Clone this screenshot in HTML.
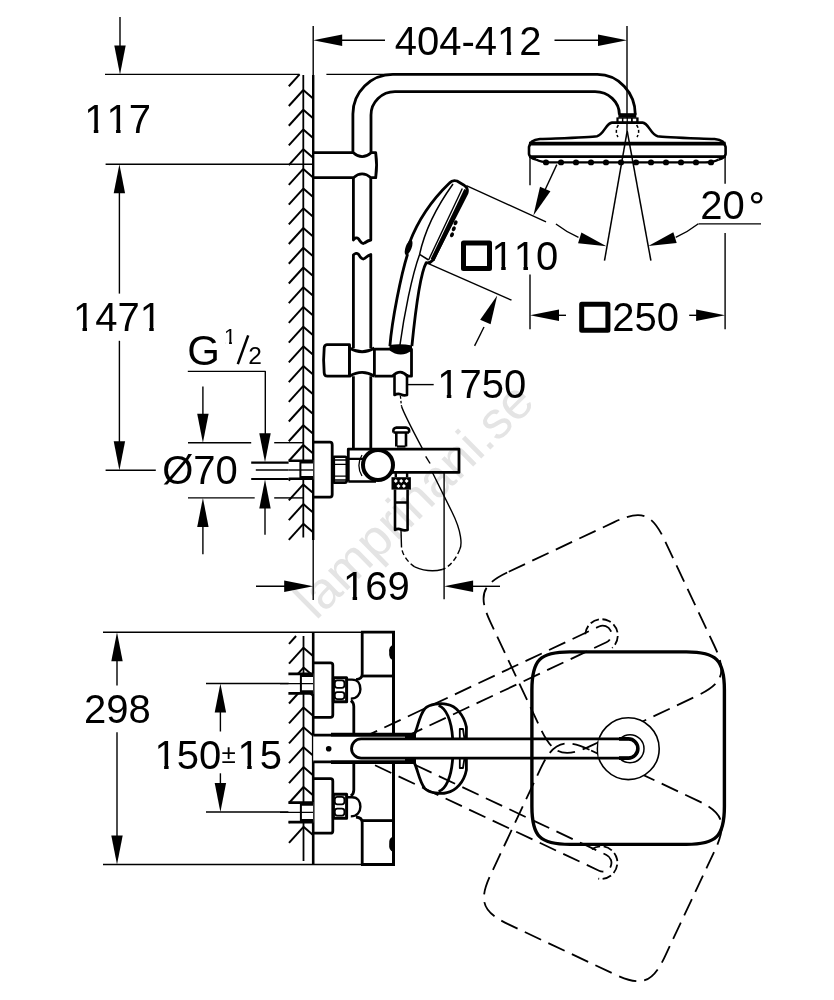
<!DOCTYPE html>
<html><head><meta charset="utf-8"><style>
html,body{margin:0;padding:0;background:#fff;width:834px;height:1000px;overflow:hidden}
svg{display:block;will-change:transform}
svg text{font-family:"Liberation Sans",sans-serif;fill:#000;stroke:none;font-kerning:none;font-feature-settings:"kern" 0}
</style></head><body>
<svg width="834" height="1000" viewBox="0 0 834 1000" fill="none" stroke="#000" stroke-linecap="butt" stroke-linejoin="round">
<text x="0" y="0" font-size="52" style="fill:#e4e4e4" transform="translate(316,621) rotate(-44.5)">lamprinani.se</text>
<line x1="105.00" y1="74.40" x2="299.60" y2="74.40" stroke-width="1.4" />
<line x1="105.60" y1="164.20" x2="313.00" y2="164.20" stroke-width="1.4" />
<line x1="120.00" y1="17.00" x2="120.00" y2="50.00" stroke-width="1.4" />
<polygon points="120.00,74.40 114.30,45.40 125.70,45.40" fill="#000" stroke="none"/>
<text x="84.22" y="133.2" font-size="40" >117</text>
<line x1="119.40" y1="185.00" x2="119.40" y2="293.60" stroke-width="1.4" />
<polygon points="119.40,164.20 125.10,193.20 113.70,193.20" fill="#000" stroke="none"/>
<text x="72.92" y="331.3" font-size="40" >1471</text>
<line x1="119.40" y1="340.80" x2="119.40" y2="450.00" stroke-width="1.4" />
<polygon points="119.40,470.30 113.70,441.30 125.10,441.30" fill="#000" stroke="none"/>
<line x1="105.60" y1="470.30" x2="155.80" y2="470.30" stroke-width="1.4" />
<line x1="303.30" y1="75.00" x2="303.30" y2="537.60" stroke-width="1.8" />
<line x1="313.20" y1="26.00" x2="313.20" y2="75.00" stroke-width="1.4" />
<line x1="313.20" y1="75.00" x2="313.20" y2="540.00" stroke-width="2.4" />
<line x1="313.20" y1="540.00" x2="313.20" y2="600.00" stroke-width="1.4" />
<line x1="288.80" y1="86.28" x2="299.57" y2="74.40" stroke-width="2.0" />
<line x1="288.80" y1="106.00" x2="303.30" y2="90.00" stroke-width="2.0" />
<line x1="303.30" y1="90.00" x2="312.50" y2="98.00" stroke-width="2.0" />
<line x1="288.80" y1="125.72" x2="303.30" y2="109.72" stroke-width="2.0" />
<line x1="303.30" y1="109.72" x2="312.50" y2="117.72" stroke-width="2.0" />
<line x1="288.80" y1="145.44" x2="303.30" y2="129.44" stroke-width="2.0" />
<line x1="303.30" y1="129.44" x2="312.50" y2="137.44" stroke-width="2.0" />
<line x1="288.80" y1="165.16" x2="303.30" y2="149.16" stroke-width="2.0" />
<line x1="303.30" y1="149.16" x2="312.50" y2="157.16" stroke-width="2.0" />
<line x1="288.80" y1="184.88" x2="303.30" y2="168.88" stroke-width="2.0" />
<line x1="303.30" y1="168.88" x2="312.50" y2="176.88" stroke-width="2.0" />
<line x1="288.80" y1="204.60" x2="303.30" y2="188.60" stroke-width="2.0" />
<line x1="303.30" y1="188.60" x2="312.50" y2="196.60" stroke-width="2.0" />
<line x1="288.80" y1="224.32" x2="303.30" y2="208.32" stroke-width="2.0" />
<line x1="303.30" y1="208.32" x2="312.50" y2="216.32" stroke-width="2.0" />
<line x1="288.80" y1="244.04" x2="303.30" y2="228.04" stroke-width="2.0" />
<line x1="303.30" y1="228.04" x2="312.50" y2="236.04" stroke-width="2.0" />
<line x1="288.80" y1="263.76" x2="303.30" y2="247.76" stroke-width="2.0" />
<line x1="303.30" y1="247.76" x2="312.50" y2="255.76" stroke-width="2.0" />
<line x1="288.80" y1="283.48" x2="303.30" y2="267.48" stroke-width="2.0" />
<line x1="303.30" y1="267.48" x2="312.50" y2="275.48" stroke-width="2.0" />
<line x1="288.80" y1="303.20" x2="303.30" y2="287.20" stroke-width="2.0" />
<line x1="303.30" y1="287.20" x2="312.50" y2="295.20" stroke-width="2.0" />
<line x1="288.80" y1="322.92" x2="303.30" y2="306.92" stroke-width="2.0" />
<line x1="303.30" y1="306.92" x2="312.50" y2="314.92" stroke-width="2.0" />
<line x1="288.80" y1="342.64" x2="303.30" y2="326.64" stroke-width="2.0" />
<line x1="303.30" y1="326.64" x2="312.50" y2="334.64" stroke-width="2.0" />
<line x1="288.80" y1="362.36" x2="303.30" y2="346.36" stroke-width="2.0" />
<line x1="303.30" y1="346.36" x2="312.50" y2="354.36" stroke-width="2.0" />
<line x1="288.80" y1="382.08" x2="303.30" y2="366.08" stroke-width="2.0" />
<line x1="303.30" y1="366.08" x2="312.50" y2="374.08" stroke-width="2.0" />
<line x1="288.80" y1="401.80" x2="303.30" y2="385.80" stroke-width="2.0" />
<line x1="303.30" y1="385.80" x2="312.50" y2="393.80" stroke-width="2.0" />
<line x1="288.80" y1="421.52" x2="303.30" y2="405.52" stroke-width="2.0" />
<line x1="303.30" y1="405.52" x2="312.50" y2="413.52" stroke-width="2.0" />
<line x1="288.80" y1="441.24" x2="303.30" y2="425.24" stroke-width="2.0" />
<line x1="303.30" y1="425.24" x2="312.50" y2="433.24" stroke-width="2.0" />
<line x1="288.80" y1="460.96" x2="303.30" y2="444.96" stroke-width="2.0" />
<line x1="303.30" y1="444.96" x2="312.50" y2="452.96" stroke-width="2.0" />
<line x1="288.80" y1="480.68" x2="303.30" y2="464.68" stroke-width="2.0" />
<line x1="303.30" y1="464.68" x2="312.50" y2="472.68" stroke-width="2.0" />
<line x1="288.80" y1="500.40" x2="303.30" y2="484.40" stroke-width="2.0" />
<line x1="303.30" y1="484.40" x2="312.50" y2="492.40" stroke-width="2.0" />
<line x1="288.80" y1="520.12" x2="303.30" y2="504.12" stroke-width="2.0" />
<line x1="303.30" y1="504.12" x2="312.50" y2="512.12" stroke-width="2.0" />
<line x1="288.80" y1="539.84" x2="303.30" y2="523.84" stroke-width="2.0" />
<line x1="303.30" y1="523.84" x2="312.50" y2="531.84" stroke-width="2.0" />
<line x1="627.00" y1="26.00" x2="627.00" y2="131.00" stroke-width="1.4" />
<line x1="340.00" y1="40.30" x2="385.00" y2="40.30" stroke-width="1.4" />
<polygon points="313.20,40.30 342.20,34.60 342.20,46.00" fill="#000" stroke="none"/>
<line x1="554.50" y1="40.30" x2="600.00" y2="40.30" stroke-width="1.4" />
<polygon points="627.00,40.30 598.00,46.00 598.00,34.60" fill="#000" stroke="none"/>
<text x="394.76" y="54.5" font-size="40" >404-412</text>
<line x1="326.40" y1="74.40" x2="395.00" y2="74.40" stroke-width="1.4" />
<path d="M352.9,152.7 V114 A40,39.6 0 0 1 392.9,74.4 H597.3 A38,40.3 0 0 1 635.3,114.7" stroke-width="2.8" />
<path d="M371,152.7 V115 A24,23.4 0 0 1 395,91.6 H595 A24.4,23.1 0 0 1 619.4,114.7" stroke-width="2.8" />
<path d="M313.2,152.7 H353.4 Q362,160.5 371.2,152.7 H375.7 Q377.5,165 375.7,177.7 H371 Q362,170 353.4,177.7 H313.2" stroke-width="2.8" />
<path d="M353.4,177.7 V240 Q356,236.5 358.5,238.8 Q362,245 364.5,243 Q368,240.5 370.8,240 V177.7" stroke-width="2.8" />
<path d="M353.4,348 V255 Q356,252 358.5,254.3 Q362,260.5 364.5,258.5 Q368,255.5 370.8,254.5 V348" stroke-width="2.8" />
<path d="M353.4,376.2 V448.7 M370.8,376.2 V448.7" stroke-width="2.8" />
<path d="M349.4,344.6 H327 Q324.2,345 324.2,348 Q323,360 324.2,373 Q324.4,376.2 327.5,376.2 H349.4 Z" stroke-width="2.8" />
<path d="M349.4,348 Q362.4,355.5 374.4,348 M349.4,376.2 Q362.4,368.5 374.4,376.2 M349.4,344.6 V376.2 M374.4,348 V376.2" stroke-width="2.8" />
<path d="M374.4,349.2 H390 Q400.7,357 411.5,349.2 V376.2 H407.3 Q400.7,368 392.3,376.2 H374.4" stroke-width="2.8" />
<path d="M394.5,374 V395 Q398,393 401,394.5 Q404,396 407,395 V374" stroke-width="2.6" />
<line x1="407.30" y1="384.60" x2="433.70" y2="384.60" stroke-width="1.4" />
<text x="437.22" y="398" font-size="40" >1750</text>
<rect x="463.5" y="242.9" width="26" height="25.7" stroke-width="5" fill="none"/>
<text x="491.62" y="269.9" font-size="40" >110</text>
<rect x="581.7" y="304.3" width="26.2" height="26" stroke-width="5" fill="none"/>
<text x="612.24" y="330.8" font-size="40" >250</text>
<text x="700.24" y="218.8" font-size="40" >20</text>
<circle cx="756.7" cy="197.8" r="4.6" stroke-width="2.4" fill="none"/>
<line x1="530.00" y1="156.00" x2="530.00" y2="185.20" stroke-width="1.4" />
<line x1="530.00" y1="274.50" x2="530.00" y2="329.20" stroke-width="1.4" />
<line x1="725.10" y1="156.00" x2="725.10" y2="183.80" stroke-width="1.4" />
<line x1="725.10" y1="232.90" x2="725.10" y2="329.20" stroke-width="1.4" />
<polygon points="530.00,315.30 559.00,309.60 559.00,321.00" fill="#000" stroke="none"/>
<line x1="550.00" y1="315.30" x2="566.00" y2="315.30" stroke-width="1.4" />
<polygon points="725.10,315.30 696.10,321.00 696.10,309.60" fill="#000" stroke="none"/>
<line x1="689.20" y1="315.30" x2="700.00" y2="315.30" stroke-width="1.4" />
<rect x="618.4" y="113.2" width="17.9" height="4.6" fill="#000" stroke="none"/>
<rect x="616.4" y="117.4" width="22.2" height="5.4" fill="#000" stroke="none"/>
<rect x="618.6" y="118.7" width="3.30" height="3.1" fill="#fff" stroke="none"/>
<rect x="623.4" y="118.7" width="3.20" height="3.1" fill="#fff" stroke="none"/>
<rect x="627.9" y="118.7" width="3.10" height="3.1" fill="#fff" stroke="none"/>
<rect x="632.8" y="118.7" width="3.40" height="3.1" fill="#fff" stroke="none"/>
<path d="M627,122.6 H612 C606,123 604,134.5 597,136.2 C590,137.5 560,138.2 540,139 C533,139.7 529.5,142 529,147 V154 Q529.5,158 536,159.5 M627,122.6 H642.6 C648.6,123 650.6,134.5 657.6,136.2 C664.6,137.5 694.6,138.2 714.6,139 C721.6,139.7 725.1,142 725.6,147 V154 Q725.1,158 718.6,159.5" stroke-width="2.6" />
<line x1="529.00" y1="143.60" x2="725.60" y2="143.60" stroke-width="3.8" />
<line x1="529.00" y1="156.60" x2="725.60" y2="156.60" stroke-width="2.8" />
<path d="M536,159.5 Q541,162.4 550,162.4 H705 Q714,162.4 718.6,159.5" stroke-width="2.4" />
<ellipse cx="546" cy="162.4" rx="3.1" ry="2.9" fill="#000" stroke="none"/>
<ellipse cx="561" cy="162.4" rx="3.1" ry="2.9" fill="#000" stroke="none"/>
<ellipse cx="576" cy="162.4" rx="3.1" ry="2.9" fill="#000" stroke="none"/>
<ellipse cx="591" cy="162.4" rx="3.1" ry="2.9" fill="#000" stroke="none"/>
<ellipse cx="606" cy="162.4" rx="3.1" ry="2.9" fill="#000" stroke="none"/>
<ellipse cx="621" cy="162.4" rx="3.1" ry="2.9" fill="#000" stroke="none"/>
<ellipse cx="636" cy="162.4" rx="3.1" ry="2.9" fill="#000" stroke="none"/>
<ellipse cx="651" cy="162.4" rx="3.1" ry="2.9" fill="#000" stroke="none"/>
<ellipse cx="666" cy="162.4" rx="3.1" ry="2.9" fill="#000" stroke="none"/>
<ellipse cx="681" cy="162.4" rx="3.1" ry="2.9" fill="#000" stroke="none"/>
<ellipse cx="696" cy="162.4" rx="3.1" ry="2.9" fill="#000" stroke="none"/>
<ellipse cx="711" cy="162.4" rx="3.1" ry="2.9" fill="#000" stroke="none"/>
<path d="M618.4,125 Q614.5,131 618,137" stroke-width="1.5" stroke-dasharray="3,2.2"/>
<path d="M636.6,125 Q640.5,131 637,137" stroke-width="1.5" stroke-dasharray="3,2.2"/>
<line x1="627.20" y1="131.00" x2="604.50" y2="260.70" stroke-width="1.5" />
<line x1="627.20" y1="131.00" x2="650.90" y2="260.70" stroke-width="1.5" />
<path d="M389.9,346 C392,320 401,275 407.6,254 M409.4,243 Q422,209.5 449.5,183 Q452.5,179.5 457,181 L464.5,185.5 Q468.5,188.5 467,193 L433,260 Q430,263.5 426.2,262.7 C421,272 416,305 411.9,346" stroke-width="2.8" />
<ellipse cx="408.6" cy="247.5" rx="3" ry="8" fill="#000" stroke="none" transform="rotate(20 408.6 247.5)"/>
<path d="M453,184 Q427,220 419.6,254.4 C412,275 404,315 399.8,346" stroke-width="1.5" />
<path d="M462.3,188.5 L428.6,260" stroke-width="1.4" />
<line x1="419.60" y1="254.40" x2="428.60" y2="260.00" stroke-width="1.5" />
<path d="M466.2,190 L432.5,260" stroke-width="4.2" />
<ellipse cx="455.6" cy="222.8" rx="1.9" ry="2.6" fill="#000" stroke="none" transform="rotate(25 455.6 222.8)"/>
<ellipse cx="453.8" cy="228.8" rx="1.9" ry="2.6" fill="#000" stroke="none" transform="rotate(25 453.8 228.8)"/>
<ellipse cx="452" cy="234.8" rx="1.9" ry="2.6" fill="#000" stroke="none" transform="rotate(25 452 234.8)"/>
<path d="M389.5,345 Q400.7,343.5 412,345.5 L412,349.5 Q400.7,357 389.5,349.5 Z" fill="#000" stroke="none"/>
<line x1="466.40" y1="185.60" x2="546.00" y2="221.80" stroke-width="1.4" />
<line x1="428.40" y1="263.60" x2="511.50" y2="300.20" stroke-width="1.4" />
<line x1="474.60" y1="345.90" x2="484.00" y2="327.00" stroke-width="1.4" />
<polygon points="497.20,295.50 490.57,324.30 480.16,319.65" fill="#000" stroke="none"/>
<line x1="556.80" y1="164.60" x2="545.00" y2="190.00" stroke-width="1.4" />
<polygon points="533.40,215.50 540.03,186.70 550.44,191.35" fill="#000" stroke="none"/>
<path d="M555.94,223.95 A117,117 0 0 0 578.48,237.47" stroke-width="1.4" />
<polygon points="606.48,246.19 578.08,243.21 581.41,232.51" fill="#000" stroke="none"/>
<path d="M698.39,223.70 A117,117 0 0 1 675.70,237.38" stroke-width="1.4" />
<polygon points="648.32,246.04 673.33,232.26 676.71,242.94" fill="#000" stroke="none"/>
<line x1="698.60" y1="223.90" x2="761.00" y2="223.90" stroke-width="1.4" />
<text x="187.30" y="364.8" font-size="42" >G</text>
<text x="224.11" y="344.4" font-size="21.5" >1</text>
<line x1="237.8" y1="364.2" x2="248.2" y2="335.4" stroke-width="2.5"/>
<text x="248.18" y="364.2" font-size="24.5" >2</text>
<path d="M187.8,371.4 H265.3 V440" stroke-width="1.4" />
<polygon points="265.00,462.30 259.30,433.30 270.70,433.30" fill="#000" stroke="none"/>
<line x1="265.00" y1="534.70" x2="265.00" y2="505.00" stroke-width="1.4" />
<polygon points="265.00,479.50 270.70,508.50 259.30,508.50" fill="#000" stroke="none"/>
<line x1="188.00" y1="442.70" x2="251.20" y2="442.70" stroke-width="1.4" />
<line x1="274.20" y1="442.70" x2="303.30" y2="442.70" stroke-width="1.4" />
<line x1="188.00" y1="497.90" x2="254.70" y2="497.90" stroke-width="1.4" />
<line x1="274.20" y1="497.90" x2="303.30" y2="497.90" stroke-width="1.4" />
<line x1="202.90" y1="386.40" x2="202.90" y2="420.00" stroke-width="1.4" />
<polygon points="202.90,442.70 197.20,413.70 208.60,413.70" fill="#000" stroke="none"/>
<line x1="202.90" y1="554.30" x2="202.90" y2="520.00" stroke-width="1.4" />
<polygon points="202.90,497.90 208.60,526.90 197.20,526.90" fill="#000" stroke="none"/>
<text x="162.14" y="484.1" font-size="40" >&#216;70</text>
<line x1="251.20" y1="462.70" x2="290.00" y2="462.70" stroke-width="2.2" />
<line x1="255.80" y1="470.00" x2="290.00" y2="470.00" stroke-width="1.4" />
<line x1="251.20" y1="479.00" x2="290.00" y2="479.00" stroke-width="2.2" />
<line x1="256.00" y1="586.20" x2="290.00" y2="586.20" stroke-width="1.4" />
<polygon points="313.20,586.20 284.20,591.90 284.20,580.50" fill="#000" stroke="none"/>
<text x="343.02" y="600" font-size="40" >169</text>
<line x1="444.10" y1="471.90" x2="444.10" y2="599.30" stroke-width="1.4" />
<line x1="500.00" y1="586.30" x2="470.00" y2="586.30" stroke-width="1.4" />
<polygon points="444.10,586.30 473.10,580.60 473.10,592.00" fill="#000" stroke="none"/>
<rect x="288.6" y="460" width="24.6" height="19.4" fill="#fff" stroke="none"/>
<path d="M288.6,460.7 H313.2 M288.6,478.7 H313.2" stroke-width="2.4" />
<path d="M300.4,461 V478.5 M300.4,462.4 H313 M300.4,477 H313" stroke-width="2.0" />
<line x1="288.60" y1="470.00" x2="313.00" y2="470.00" stroke-width="1.4" />
<path d="M313.2,442.2 H330 Q332.2,442.2 332.2,445 V494.5 Q332.2,497.2 330,497.2 H313.2" stroke-width="2.8" />
<path d="M333.8,456.7 H345 Q346.8,456.7 346.8,459 V480.3 Q346.8,482.6 345,482.6 H333.8 Z" stroke-width="2.6" />
<path d="M334,460 H346.5 M334,464.3 H346.5 M334,476.1 H346.5 M334,480 H346.5" stroke-width="1.3" />
<path d="M348.3,481.5 V449.2 H459 V472.4 H392" stroke-width="2.8" />
<path d="M348.3,458.9 H366 M348.3,481.5 H376" stroke-width="2.4" />
<circle cx="378" cy="465" r="15" stroke-width="4" fill="#fff"/>
<path d="M362,455 A19.4,19.4 0 0 0 362,476" stroke-width="1.3" />
<path d="M396.3,446.5 V432.5 M406,446.5 V432.5 M393.5,432.5 H409 M393.5,432.5 Q392.5,428 396.5,427.6 H406 Q410,428 409,432.5" stroke-width="2.6" />
<path d="M397,446.5 H405.5" stroke-width="2.2" />
<rect x="391.5" y="477.2" width="19.4" height="12.4" fill="#000" stroke="none"/>
<polygon points="395.8,478.9 397.8,480.9 395.8,482.9 393.8,480.9" fill="#fff" stroke="none"/>
<polygon points="401.2,478.9 403.2,480.9 401.2,482.9 399.2,480.9" fill="#fff" stroke="none"/>
<polygon points="406.6,478.9 408.6,480.9 406.6,482.9 404.6,480.9" fill="#fff" stroke="none"/>
<polygon points="398.5,483.9 400.5,485.9 398.5,487.9 396.5,485.9" fill="#fff" stroke="none"/>
<polygon points="403.9,483.9 405.9,485.9 403.9,487.9 401.9,485.9" fill="#fff" stroke="none"/>
<path d="M395.8,472.4 V477.2 M407.1,472.4 V477.2" stroke-width="2.4" />
<path d="M395,489.5 V530 Q398,528 401,529.5 Q404,531 407.6,530 V489.5 M395,502.5 H407.6" stroke-width="2.6" />
<path d="M400.4,396 Q401,402 401.5,406.3" stroke-width="1.3" stroke-dasharray="2.5,2"/>
<path d="M401.5,406.3 Q404,414 422.4,448.7" stroke-width="1.4" />
<path d="M425.7,456.4 L430.1,463.5" stroke-width="1.4" />
<path d="M432.3,472.2 L452,512 C462,532 462,545 459.8,549.2" stroke-width="1.4" />
<path d="M459.8,549.2 C455,562 447,568 442.2,569.5" stroke-width="1.4" stroke-dasharray="5,3"/>
<path d="M442.2,569.5 C432,572 422,570 414.7,566.8" stroke-width="1.4" />
<path d="M414.7,566.8 C406,561 402,553 401.5,547" stroke-width="1.4" stroke-dasharray="5,3"/>
<path d="M401.5,547 L401,530" stroke-width="1.4" />
<line x1="103.00" y1="632.20" x2="394.00" y2="632.20" stroke-width="1.6" />
<line x1="103.00" y1="864.50" x2="394.00" y2="864.50" stroke-width="1.6" />
<polygon points="117.00,632.20 122.70,661.20 111.30,661.20" fill="#000" stroke="none"/>
<line x1="117.00" y1="655.00" x2="117.00" y2="685.40" stroke-width="1.4" />
<line x1="117.00" y1="732.20" x2="117.00" y2="845.00" stroke-width="1.4" />
<polygon points="117.00,864.50 111.30,835.50 122.70,835.50" fill="#000" stroke="none"/>
<text x="84.04" y="723.2" font-size="40" >298</text>
<line x1="206.00" y1="683.50" x2="300.00" y2="683.50" stroke-width="1.4" />
<line x1="206.00" y1="812.00" x2="300.00" y2="812.00" stroke-width="1.4" />
<polygon points="220.40,683.50 226.10,712.50 214.70,712.50" fill="#000" stroke="none"/>
<line x1="220.40" y1="705.00" x2="220.40" y2="731.50" stroke-width="1.4" />
<line x1="220.40" y1="773.30" x2="220.40" y2="790.00" stroke-width="1.4" />
<polygon points="220.40,812.00 214.70,783.00 226.10,783.00" fill="#000" stroke="none"/>
<text x="154.52" y="768.6" font-size="40" >150</text>
<text x="221.38" y="762.7" font-size="26" >&#177;</text>
<text x="237.62" y="768.6" font-size="40" >15</text>
<line x1="303.50" y1="636.00" x2="303.50" y2="861.00" stroke-width="1.8" />
<line x1="313.20" y1="632.20" x2="313.20" y2="864.50" stroke-width="2.6" />
<line x1="289.00" y1="643.80" x2="296.07" y2="636.00" stroke-width="2.0" />
<line x1="289.00" y1="663.70" x2="303.50" y2="647.70" stroke-width="2.0" />
<line x1="303.50" y1="647.70" x2="312.70" y2="655.70" stroke-width="2.0" />
<line x1="289.00" y1="683.60" x2="303.50" y2="667.60" stroke-width="2.0" />
<line x1="303.50" y1="667.60" x2="312.70" y2="675.60" stroke-width="2.0" />
<line x1="289.00" y1="703.50" x2="303.50" y2="687.50" stroke-width="2.0" />
<line x1="303.50" y1="687.50" x2="312.70" y2="695.50" stroke-width="2.0" />
<line x1="289.00" y1="723.40" x2="303.50" y2="707.40" stroke-width="2.0" />
<line x1="303.50" y1="707.40" x2="312.70" y2="715.40" stroke-width="2.0" />
<line x1="289.00" y1="743.30" x2="303.50" y2="727.30" stroke-width="2.0" />
<line x1="303.50" y1="727.30" x2="312.70" y2="735.30" stroke-width="2.0" />
<line x1="289.00" y1="763.20" x2="303.50" y2="747.20" stroke-width="2.0" />
<line x1="303.50" y1="747.20" x2="312.70" y2="755.20" stroke-width="2.0" />
<line x1="289.00" y1="783.10" x2="303.50" y2="767.10" stroke-width="2.0" />
<line x1="303.50" y1="767.10" x2="312.70" y2="775.10" stroke-width="2.0" />
<line x1="289.00" y1="803.00" x2="303.50" y2="787.00" stroke-width="2.0" />
<line x1="303.50" y1="787.00" x2="312.70" y2="795.00" stroke-width="2.0" />
<line x1="289.00" y1="822.90" x2="303.50" y2="806.90" stroke-width="2.0" />
<line x1="303.50" y1="806.90" x2="312.70" y2="814.90" stroke-width="2.0" />
<line x1="289.00" y1="842.80" x2="303.50" y2="826.80" stroke-width="2.0" />
<line x1="303.50" y1="826.80" x2="312.70" y2="834.80" stroke-width="2.0" />
<path d="M313.2,662.8 H330.5 Q332.8,662.8 332.8,665.0999999999999 V715.0 Q332.8,717.3 330.5,717.3 H313.2" stroke-width="2.8" />
<path d="M333.4,677.8 H346.6 V701.7 H333.4 Z" stroke-width="3.0" />
<rect x="334.8" y="680.4" width="9.6" height="7.4" rx="2.5" stroke-width="1.8" fill="none"/>
<rect x="334.8" y="692.1" width="9.6" height="7" rx="2.5" stroke-width="1.8" fill="none"/>
<path d="M346.6,679.6 H352 C358,679.6 360.4,684.1500000000001 360.4,689.1500000000001 C360.4,694.1500000000001 357,698.7 350.8,698.7" stroke-width="2.4" />
<rect x="288.4" y="673.4" width="24.8" height="20.5" fill="#fff" stroke="none"/>
<path d="M288.4,673.9 H313.2 M288.4,693.4 H313.2" stroke-width="2.6" />
<path d="M300.9,674.4 V692.9 M300.9,676.0 H313 M300.9,691.3 H313" stroke-width="2.0" />
<line x1="280.00" y1="683.65" x2="313.00" y2="683.65" stroke-width="1.4" />
<path d="M313.2,778.7 H330.5 Q332.8,778.7 332.8,781.0 V830.9000000000001 Q332.8,833.2 330.5,833.2 H313.2" stroke-width="2.8" />
<path d="M333.4,794.3 H346.6 V818.2 H333.4 Z" stroke-width="3.0" />
<rect x="334.8" y="796.9" width="9.6" height="7.4" rx="2.5" stroke-width="1.8" fill="none"/>
<rect x="334.8" y="808.6" width="9.6" height="7" rx="2.5" stroke-width="1.8" fill="none"/>
<path d="M346.6,797.3 H352 C358,797.3 360.4,801.8499999999999 360.4,806.8499999999999 C360.4,811.8499999999999 357,816.4 350.8,816.4" stroke-width="2.4" />
<rect x="288.4" y="802.1" width="24.8" height="20.5" fill="#fff" stroke="none"/>
<path d="M288.4,802.6 H313.2 M288.4,822.1 H313.2" stroke-width="2.6" />
<path d="M300.9,803.1 V821.6 M300.9,804.7 H313 M300.9,820.0 H313" stroke-width="2.0" />
<line x1="280.00" y1="812.35" x2="313.00" y2="812.35" stroke-width="1.4" />
<path d="M362.2,632.2 V674 Q362.2,679 356,679.6" stroke-width="2.8" />
<path d="M362.2,676 H393.3" stroke-width="2.8" />
<path d="M350.8,700.5 Q353.8,702.5 353.8,706.5 V734" stroke-width="2.8" />
<path d="M362.2,864.5 V822.5 Q362.2,817.6 356,817" stroke-width="2.8" />
<path d="M362.2,820.6 H393.3" stroke-width="2.8" />
<path d="M350.8,796 Q353.8,794 353.8,790 V762" stroke-width="2.8" />
<line x1="393.50" y1="632.20" x2="393.50" y2="864.50" stroke-width="3" />
<line x1="361.00" y1="632.20" x2="395.00" y2="632.20" stroke-width="2.8" />
<line x1="361.00" y1="864.50" x2="395.00" y2="864.50" stroke-width="2.8" />
<path d="M393.5,644.8 Q388.5,646 389.2,652.6 Q388.5,659 393.5,660.4 Z" fill="#000" stroke="none"/>
<path d="M393.5,836.4 Q388.5,837.6 389.2,844.2 Q388.5,850.6 393.5,852 Z" fill="#000" stroke="none"/>
<g transform="rotate(-25.2 360 748.6)">
<path d="M365,739.9 H628.3 A8.7,8.7 0 0 1 628.3,757.3 H365" stroke-width="1.8" stroke-dasharray="18,8"/>
<path d="M612.5,741 A16.3,16.3 0 1 1 631,764.8" stroke-width="1.8" stroke-dasharray="9,3.5"/>
<path d="M569.9,651.9 H686.4 C716.4,651.9 724.4,659.9 724.4,689.9 V806.4 C724.4,836.4 716.4,844.4 686.4,844.4 H569.9 C539.9,844.4 531.9,836.4 531.9,806.4 V689.9 C531.9,659.9 539.9,651.9 569.9,651.9 Z" stroke-width="1.8" stroke-dasharray="18,8"/>
</g>
<g transform="rotate(25.2 360 748.6)">
<path d="M365,739.9 H628.3 A8.7,8.7 0 0 1 628.3,757.3 H365" stroke-width="1.8" stroke-dasharray="18,8"/>
<path d="M612.5,741 A16.3,16.3 0 1 1 631,764.8" stroke-width="1.8" stroke-dasharray="9,3.5"/>
<path d="M569.9,651.9 H686.4 C716.4,651.9 724.4,659.9 724.4,689.9 V806.4 C724.4,836.4 716.4,844.4 686.4,844.4 H569.9 C539.9,844.4 531.9,836.4 531.9,806.4 V689.9 C531.9,659.9 539.9,651.9 569.9,651.9 Z" stroke-width="1.8" stroke-dasharray="18,8"/>
</g>
<path d="M569.9,651.9 H686.4 C716.4,651.9 724.4,659.9 724.4,689.9 V806.4 C724.4,836.4 716.4,844.4 686.4,844.4 H569.9 C539.9,844.4 531.9,836.4 531.9,806.4 V689.9 C531.9,659.9 539.9,651.9 569.9,651.9 Z" stroke-width="3.4"/>
<circle cx="628.3" cy="748.7" r="30.9" stroke-width="1.6" fill="#fff"/>
<circle cx="630" cy="748.7" r="14" stroke-width="1.5" fill="none"/>
<rect x="313.2" y="735.1" width="102" height="26.7" fill="#fff" stroke="none"/>
<path d="M313.2,735.1 H416 M313.2,761.8 H416" stroke-width="2.8" />
<path d="M331,734.6 H414 M331,762.3 H414" stroke-width="3.6" />
<rect x="598.5" y="740" width="33.5" height="17" fill="#fff" stroke="none"/>
<path d="M628.3,738.9 H361.1 A9.6,9.6 0 0 0 361.1,758.1 H628.3" stroke-width="2.8" />
<path d="M619,738.9 H628.3 A9.6,9.6 0 0 1 628.3,758.1 H619" stroke-width="3.6" />
<circle cx="328.7" cy="748.8" r="2.8" fill="#000" stroke="none"/>
<path d="M414.4,734.5 C418,727 419,716 424.9,708.6 C429,704 441,702.5 447,704.4 C456,706 464,715 466.4,727 V739 M414.4,763 C418,770 419,781 424.9,788.6 C429,793 441,794.5 447,792.6 C456,791 464,782 466.4,770 V758" stroke-width="2.8" />
<path d="M438.6,705.5 C446,708 451.5,720 452.7,739 M438.6,791.5 C446,789 451.5,777 452.7,758" stroke-width="2.8" />
<path d="M459.8,739 V729 H463 L464.5,739 M459.8,758 V768 H463 L464.5,758" stroke-width="1.8" />
<path d="M405,735 Q411,733 416,736 L416,738 H405 Z M405,762 Q411,764 416,761 L416,759 H405 Z" fill="#000" stroke="none"/>
<rect x="86.22" y="129.15" width="7.60" height="5.05" fill="#fff" stroke="none"/>
<rect x="98.30" y="129.15" width="7.60" height="5.05" fill="#fff" stroke="none"/>
<rect x="108.46" y="129.15" width="7.60" height="5.05" fill="#fff" stroke="none"/>
<rect x="120.54" y="129.15" width="7.60" height="5.05" fill="#fff" stroke="none"/>
<rect x="74.92" y="327.25" width="7.60" height="5.05" fill="#fff" stroke="none"/>
<rect x="87.00" y="327.25" width="7.60" height="5.05" fill="#fff" stroke="none"/>
<rect x="141.64" y="327.25" width="7.60" height="5.05" fill="#fff" stroke="none"/>
<rect x="153.72" y="327.25" width="7.60" height="5.05" fill="#fff" stroke="none"/>
<rect x="499.04" y="50.45" width="7.60" height="5.05" fill="#fff" stroke="none"/>
<rect x="511.12" y="50.45" width="7.60" height="5.05" fill="#fff" stroke="none"/>
<rect x="439.22" y="393.95" width="7.60" height="5.05" fill="#fff" stroke="none"/>
<rect x="451.30" y="393.95" width="7.60" height="5.05" fill="#fff" stroke="none"/>
<rect x="493.62" y="265.85" width="7.60" height="5.05" fill="#fff" stroke="none"/>
<rect x="505.70" y="265.85" width="7.60" height="5.05" fill="#fff" stroke="none"/>
<rect x="515.86" y="265.85" width="7.60" height="5.05" fill="#fff" stroke="none"/>
<rect x="527.94" y="265.85" width="7.60" height="5.05" fill="#fff" stroke="none"/>
<rect x="225.19" y="341.72" width="3.86" height="3.68" fill="#fff" stroke="none"/>
<rect x="231.91" y="341.72" width="4.08" height="3.68" fill="#fff" stroke="none"/>
<rect x="345.02" y="595.95" width="7.60" height="5.05" fill="#fff" stroke="none"/>
<rect x="357.10" y="595.95" width="7.60" height="5.05" fill="#fff" stroke="none"/>
<rect x="156.52" y="764.55" width="7.60" height="5.05" fill="#fff" stroke="none"/>
<rect x="168.60" y="764.55" width="7.60" height="5.05" fill="#fff" stroke="none"/>
<rect x="239.62" y="764.55" width="7.60" height="5.05" fill="#fff" stroke="none"/>
<rect x="251.70" y="764.55" width="7.60" height="5.05" fill="#fff" stroke="none"/>
</svg></body></html>
